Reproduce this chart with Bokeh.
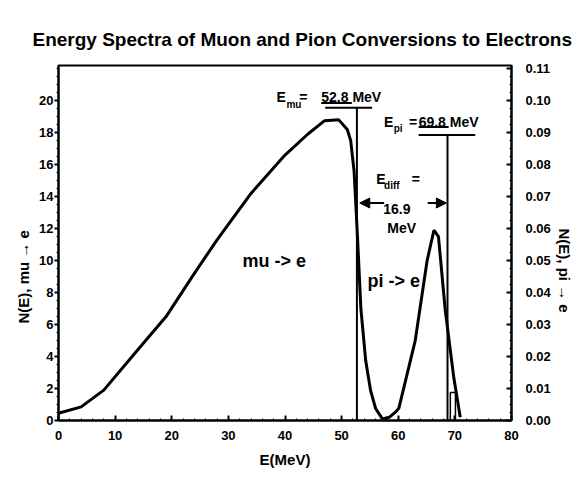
from bokeh.plotting import figure
from bokeh.models import (Range1d, LinearAxis, FixedTicker, NumeralTickFormatter,
                          Label, Arrow, NormalHead, Title)
from bokeh.embed import file_html
from bokeh.resources import INLINE

# ---------------- data ----------------
mu_E = [0, 4, 8, 13, 19, 24, 28, 34, 40, 44, 47, 49.5, 51, 51.6, 52.2, 52.8, 53.4, 54.25, 55.1, 56.0, 57.2]
mu_N = [0.45, 0.85, 1.9, 4.0, 6.5, 9.2, 11.3, 14.2, 16.6, 17.9, 18.75, 18.8, 18.2, 17.5, 15.6, 11.5, 7.0, 3.75, 1.9, 0.75, 0.1]

pi_E = [57.2, 58.4, 59.5, 60.1, 63.0, 65.1, 66.3, 67.1, 68.3, 69.8, 70.95]
pi_N = [0.0005, 0.001, 0.0026, 0.0038, 0.025, 0.05, 0.0595, 0.0575, 0.0345, 0.0135, 0.001]

marker_E = [52.7, 68.7]          # vertical marker lines (E_mu, E_pi)
marker_top = [19.56, 17.86]      # top of marker lines (left-axis units)
bar_left = [47.1, 63.6]          # horizontal bars above markers
bar_right = [55.4, 73.6]
ul_left = [46.4, 63.6]           # underlines of the energy values
ul_right = [51.8, 68.9]
ul_y = [19.85, 18.35]
bin_left = [69.2]
bin_right = [70.1]
bin_top = [1.75]

x_ticks = list(range(0, 81, 10))
y_left_ticks = list(range(0, 21, 2))
y_right_ticks = [i / 100 for i in range(0, 12)]

FONT = "Liberation Sans"

p = figure(width=576, height=476, x_range=Range1d(0, 80), y_range=Range1d(0, 22.2),
           output_backend="svg", toolbar_location=None,
           min_border_left=58, min_border_right=63, min_border_top=65, min_border_bottom=56)
p.extra_y_ranges = {"r": Range1d(0, 0.111)}
p.grid.visible = False
p.outline_line_color = "black"
p.outline_line_width = 2
p.background_fill_color = "white"
p.border_fill_color = "white"

# title
p.title.text = "Energy Spectra of Muon and Pion Conversions to Electrons"
p.title.text_font = FONT
p.title.text_font_style = "bold"
p.title.text_font_size = "19px"
p.title.text_color = "black"
p.title.align = "left"
p.title.offset = -26
p.title.standoff = 31

# x axis
xa = p.xaxis[0]
xa.ticker = FixedTicker(ticks=x_ticks, minor_ticks=list(range(0, 81, 2)))
xa.axis_label = "E(MeV)"
xa.major_tick_in = 5
xa.major_tick_out = 0
xa.minor_tick_in = 2
xa.minor_tick_out = 0
xa.major_label_standoff = 10
xa.axis_label_standoff = 8

# left y axis
ya = p.yaxis[0]
ya.ticker = FixedTicker(ticks=y_left_ticks, minor_ticks=[i * 0.5 for i in range(0, 45)])
ya.major_tick_in = 0
ya.major_tick_out = 4
ya.minor_tick_in = 0
ya.minor_tick_out = 2
ya.major_label_standoff = 1

# right y axis
ra = LinearAxis(y_range_name="r", ticker=FixedTicker(ticks=y_right_ticks,
                minor_ticks=[i * 0.0025 for i in range(0, 45)]),
                formatter=NumeralTickFormatter(format="0.00"))
ra.major_tick_in = 5
ra.major_tick_out = 0
ra.minor_tick_in = 2
ra.minor_tick_out = 0
ra.major_label_standoff = 14
p.add_layout(ra, "right")

for ax in [xa, ya, ra]:
    ax.axis_line_width = 2
    ax.axis_line_color = "black"
    ax.major_tick_line_width = 2
    ax.major_tick_line_color = "black"
    ax.minor_tick_line_color = "black"
    ax.major_label_text_font = FONT
    ax.major_label_text_font_style = "bold"
    ax.major_label_text_font_size = "13px"
    ax.major_label_text_color = "black"
    ax.axis_label_text_font = FONT
    ax.axis_label_text_font_style = "bold"
    ax.axis_label_text_font_size = "15px"
    ax.axis_label_text_color = "black"

# side labels as titles to allow offset along the axis
lt = Title(text="N(E),  mu \u2192 e", align="left", offset=97, text_color="black",
           text_font=FONT, text_font_style="bold", text_font_size="15px", standoff=10)
p.add_layout(lt, "left")
rt = Title(text="N(E),  pi \u2192 e", align="left", offset=163, text_color="black",
           text_font=FONT, text_font_style="bold", text_font_size="15px", standoff=4)
p.add_layout(rt, "right")

# curves
p.line(mu_E, mu_N, line_color="black", line_width=3)
p.line(pi_E, pi_N, line_color="black", line_width=3, y_range_name="r")

# markers
p.segment(x0=marker_E, y0=[0, 0], x1=marker_E, y1=marker_top, line_color="black", line_width=2)
p.segment(x0=bar_left, y0=marker_top, x1=bar_right, y1=marker_top, line_color="black", line_width=2)
p.quad(left=bin_left, right=bin_right, bottom=[0], top=bin_top, fill_color=None,
       line_color="black", line_width=1.5)
p.segment(x0=ul_left, y0=ul_y, x1=ul_right, y1=ul_y, line_color="black", line_width=2)


def lab(x, y, t, size="14px", align="left"):
    p.add_layout(Label(x=x, y=y, text=t, text_font=FONT, text_font_style="bold",
                       text_font_size=size, text_align=align, text_baseline="alphabetic",
                       text_color="black"))


# E_mu
lab(38.5, 20.2, "E")
lab(40.25, 19.75, "mu", "10px")
lab(42.5, 20.2, "=")
lab(46.4, 20.2, "52.8 MeV")
# E_pi
lab(57.5, 18.64, "E")
lab(59.2, 18.27, "pi", "10px")
lab(61.9, 18.64, "=")
lab(63.6, 18.64, "69.8 MeV")
# E_diff
lab(56.1, 15.1, "E")
lab(57.5, 14.7, "diff", "10px")
lab(62.4, 15.1, "=")
lab(59.75, 13.25, "16.9", align="center")
lab(60.6, 12.06, "MeV", align="center")
p.add_layout(Arrow(x_start=57.5, y_start=13.6, x_end=53.2, y_end=13.6, line_width=2,
                   end=NormalHead(size=10, fill_color="black", line_color="black")))
p.add_layout(Arrow(x_start=65.2, y_start=13.6, x_end=68.5, y_end=13.6, line_width=2,
                   end=NormalHead(size=10, fill_color="black", line_color="black")))

# curve labels
lab(38.1, 10.0, "mu -> e", "18px", "center")
lab(59.2, 8.75, "pi -> e", "18px", "center")

open("out.html", "w").write(file_html(p, INLINE))
